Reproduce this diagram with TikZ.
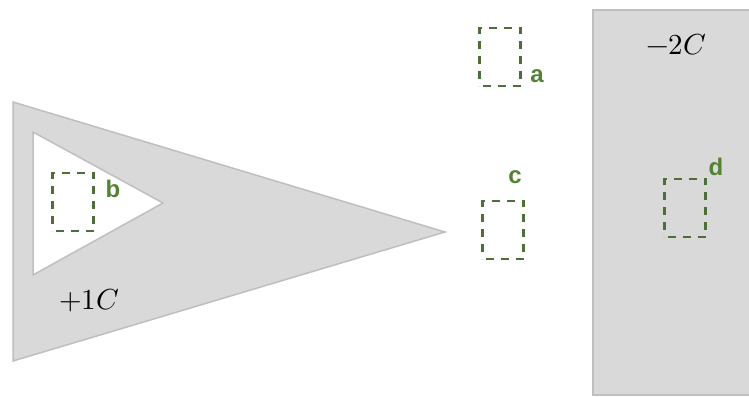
\documentclass[tikz,border=0pt]{standalone}
\usepackage{fontspec}
\usepackage{unicode-math}
\newfontfamily\lblfont{Liberation Sans}
\definecolor{graytone}{HTML}{D9D9D9}
\definecolor{edgegray}{HTML}{BFBFBF}
\definecolor{lblgreen}{HTML}{548235}
\definecolor{boxgreen}{HTML}{4F6F3A}
\begin{document}
\begin{tikzpicture}[x=1pt,y=-1pt,
  region/.style={fill=graytone,draw=edgegray,line width=1.5pt,line join=miter},
  probe/.style={draw=boxgreen,dash pattern=on 8pt off 7pt,dash phase=-3pt,line width=2.2pt,inner sep=0pt,minimum width=41pt,minimum height=58pt},
  tag/.style={text=lblgreen,font=\lblfont\bfseries\fontsize{24}{28}\selectfont,inner sep=0pt},
  charge/.style={inner sep=0pt,font=\fontsize{29}{34}\selectfont}]
\useasboundingbox (0,0) rectangle (749,396);
% hollow triangle
\path[region,even odd rule] (13,102) -- (445,232) -- (13,361) -- cycle
  (33,132) -- (163,203) -- (33,275) -- cycle;
% right slab
\fill[graytone] (593,10) rectangle (749,395);
\draw[edgegray,line width=1.5pt] (749,10) -- (593,10) -- (593,395) -- (749,395);
% charges
\node[charge] (q1) at (89,300) {$+1C$};
\node[charge] (q2) at (676,45) {$-2C$};
% probe boxes
\node[probe] (pa) at (500,57) {};
\node[probe] (pb) at (73,202) {};
\node[probe] (pc) at (503,230) {};
\node[probe] (pd) at (685,208) {};
% labels
\node[tag] (la) at (537,76) {a};
\node[tag] (lb) at (113,189) {b};
\node[tag] (lc) at (515,177) {c};
\node[tag] (ld) at (716,167) {d};
\end{tikzpicture}
\end{document}
